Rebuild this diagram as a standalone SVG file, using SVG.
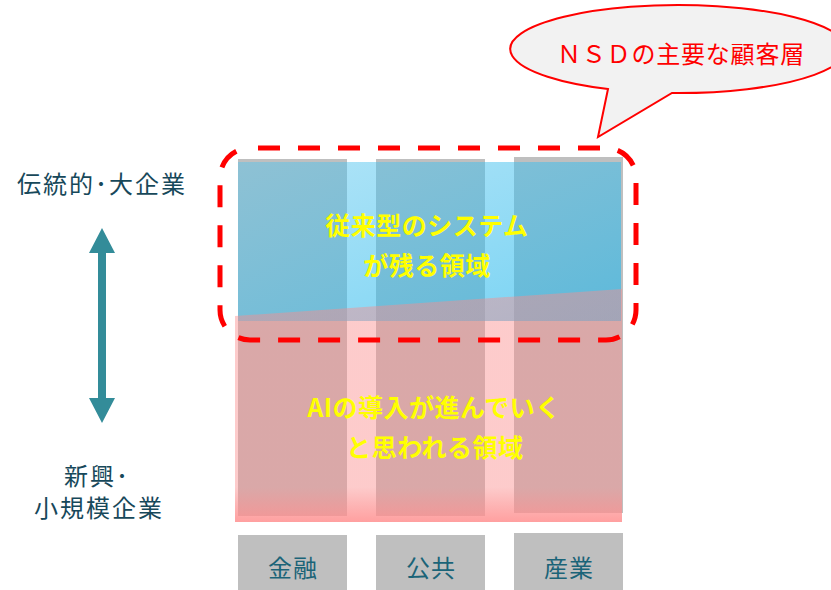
<svg xmlns="http://www.w3.org/2000/svg" width="831" height="590" viewBox="0 0 831 590">
<style>
.col{fill:#bfbfbf}
.lbl{font-family:"Noto Sans CJK JP","Liberation Sans",sans-serif;font-size:24px;letter-spacing:1px;fill:#1b6478;text-anchor:middle}
.side{font-family:"Noto Sans CJK JP","Liberation Sans",sans-serif;font-size:24px;letter-spacing:2px;fill:#17485a;text-anchor:middle}
.ylw{font-family:"Noto Sans CJK JP","Liberation Sans",sans-serif;font-size:25px;letter-spacing:0.5px;font-weight:bold;fill:#ffff00;text-anchor:middle}
.call{font-family:"Noto Sans CJK JP","Liberation Sans",sans-serif;font-size:24px;letter-spacing:0.8px;fill:#ff0000;text-anchor:middle}
</style>
<defs>
<linearGradient id="blueG" x1="0" y1="0" x2="1" y2="1">
<stop offset="0" stop-color="#52c4ee" stop-opacity="0.45"/>
<stop offset="1" stop-color="#1fb6ec" stop-opacity="0.62"/>
</linearGradient>
<linearGradient id="pinkG" x1="0" y1="0" x2="0" y2="1">
<stop offset="0" stop-color="#fa8c8c" stop-opacity="0.45"/>
<stop offset="0.85" stop-color="#fa8c8c" stop-opacity="0.45"/>
<stop offset="1" stop-color="#ff8f8f" stop-opacity="0.85"/>
</linearGradient>
</defs>
<g id="columns">
<rect class="col" x="238" y="159" width="109" height="357"/>
<rect class="col" x="376" y="159" width="109" height="357"/>
<rect class="col" x="514" y="157" width="109" height="356"/>
</g>
<g id="blue-area">
<rect x="238" y="162" width="383" height="159" fill="url(#blueG)"/>
</g>
<g id="pink-area">
<polygon points="235,316 622,289 622,522 235,522" fill="url(#pinkG)"/>
</g>
<g id="labels">
<g id="kinyu"><rect class="col" x="238" y="535" width="109" height="55"/><text class="lbl" x="293" y="577">金融</text></g>
<g id="kokyo"><rect class="col" x="376" y="535" width="109" height="55"/><text class="lbl" x="431" y="577">公共</text></g>
<g id="sangyo"><rect class="col" x="514" y="533" width="109" height="57"/><text class="lbl" x="569" y="577">産業</text></g>
</g>
<g id="texts">
<text class="ylw" x="427" y="235">従来型のシステム</text>
<text class="ylw" x="427" y="275">が残る領域</text>
<text class="ylw" x="434" y="417">AIの導入が進んでいく</text>
<text class="ylw" x="435" y="457">と思われる領域</text>
</g>
<g id="side">
<text class="side" x="102" y="193">伝統的･大企業</text>
<text class="side" x="97" y="485">新興･</text>
<text class="side" x="99" y="517">小規模企業</text>
</g>
<g id="connectors">
<polygon points="102,228 115,253 106,253 106,398 115,398 102,423 89,398 98,398 98,253 89,253" fill="#338c99"/>
</g>
<g id="highlight">
<rect x="220" y="148" width="416" height="192" rx="30" ry="30" fill="none" stroke="#ff0000" stroke-width="5" stroke-dasharray="22 18" stroke-dashoffset="-8"/>
</g>
<g id="callout">
<path d="M608,89 L598,137 L672,93 A168,44 0 1 0 608,89 Z" fill="#f2f2f2" stroke="#ff0000" stroke-width="2"/>
<text class="call" x="681" y="63">ＮＳＤの主要な顧客層</text>
</g>
</svg>
